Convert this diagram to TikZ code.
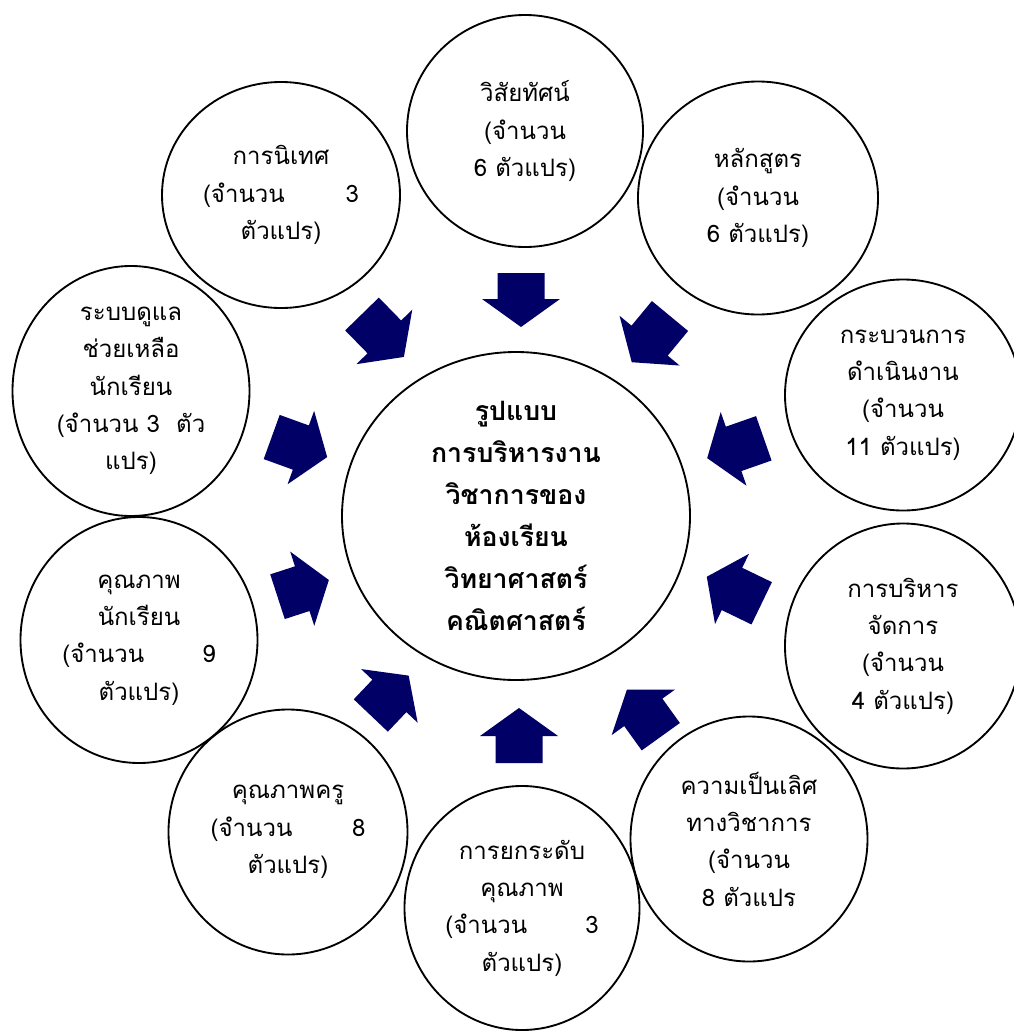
\documentclass[tikz,border=0pt]{standalone}
\usepackage{fontspec}
\setmainfont[Script=Thai]{Loma}
\usetikzlibrary{shapes.geometric}
\definecolor{navyarr}{RGB}{0,0,102}
\tikzset{
  bubble/.style={draw=black, line width=1.4pt, ellipse, inner sep=0pt, align=center,
    font=\fontsize{18}{28}\selectfont},
  hub/.style={bubble, font=\bfseries\fontsize{20}{31.5}\selectfont},
  arrowfill/.style={fill=navyarr},
}
\newcommand{\blockarr}[4]{\fill[arrowfill, shift={(#1,#2)}, rotate=#3]
  (0,-23.5) -- ({#4-28},-23.5) -- ({#4-28},-39) -- (#4,0) -- ({#4-28},39) -- ({#4-28},23.5) -- (0,23.5) -- cycle;}
\newcommand{\spreadline}[3]{\makebox[#1]{#2\hfill #3}}
\begin{document}
\begin{tikzpicture}[x=0.75pt,y=-0.75pt]
\useasboundingbox (0,0) rectangle (1014,1032);
\fill[white] (0,0) rectangle (1014,1032);

\node[bubble, minimum width=177pt, minimum height=174pt] (vision) at (525,131)
  {วิสัยทัศน์\\(จำนวน\\6 ตัวแปร)};
\node[bubble, minimum width=178.5pt, minimum height=169.5pt] (supervision) at (281,195)
  {การนิเทศ\\\spreadline{117pt}{(จำนวน}{3}\\ตัวแปร)};
\node[bubble, minimum width=180pt, minimum height=174.75pt] (curriculum) at (758,198)
  {หลักสูตร\\(จำนวน\\6 ตัวแปร)};
\node[bubble, minimum width=177.75pt, minimum height=187.5pt] (care) at (131,391)
  {ระบบดูแล\\ช่วยเหลือ\\นักเรียน\\(จำนวน 3\ \ ตัว\\แปร)};
\node[bubble, minimum width=177pt, minimum height=173.25pt] (process) at (903,395)
  {กระบวนการ\\ดำเนินงาน\\(จำนวน\\11 ตัวแปร)};
\node[hub, minimum width=261pt, minimum height=246pt] (model) at (516,516)
  {รูปแบบ\\การบริหารงาน\\วิชาการของ\\ห้องเรียน\\วิทยาศาสตร์\\คณิตศาสตร์};
\node[bubble, minimum width=177.75pt, minimum height=184.5pt] (studentq) at (139,640)
  {คุณภาพ\\นักเรียน\\\spreadline{115pt}{(จำนวน}{9}\\ตัวแปร)};
\node[bubble, minimum width=179.25pt, minimum height=183.75pt] (teacherq) at (288,832)
  {คุณภาพครู\\\spreadline{116pt}{(จำนวน}{8}\\ตัวแปร)};
\node[bubble, minimum width=176.25pt, minimum height=183pt] (upgrade) at (522,908)
  {การยกระดับ\\คุณภาพ\\\spreadline{115pt}{(จำนวน}{3}\\ตัวแปร)};
\node[bubble, minimum width=177.75pt, minimum height=183.75pt] (excellence) at (749,839)
  {ความเป็นเลิศ\\ทางวิชาการ\\(จำนวน\\8 ตัวแปร};
\node[bubble, minimum width=177pt, minimum height=183.75pt] (admin) at (903,646)
  {การบริหาร\\จัดการ\\(จำนวน\\4 ตัวแปร)};

\blockarr{521}{273}{-90}{54}
\blockarr{362}{314}{-45.7}{60}
\blockarr{670}{316}{-129.6}{60}
\blockarr{271.7}{437}{-19.9}{59}
\blockarr{277.5}{596.7}{18}{54}
\blockarr{763.8}{438.3}{-160.7}{60}
\blockarr{761.7}{603.3}{154.2}{61}
\blockarr{370.8}{715.5}{46.5}{55}
\blockarr{519}{763}{90}{55}
\blockarr{660.8}{736.7}{125.7}{58}
\end{tikzpicture}
\end{document}
